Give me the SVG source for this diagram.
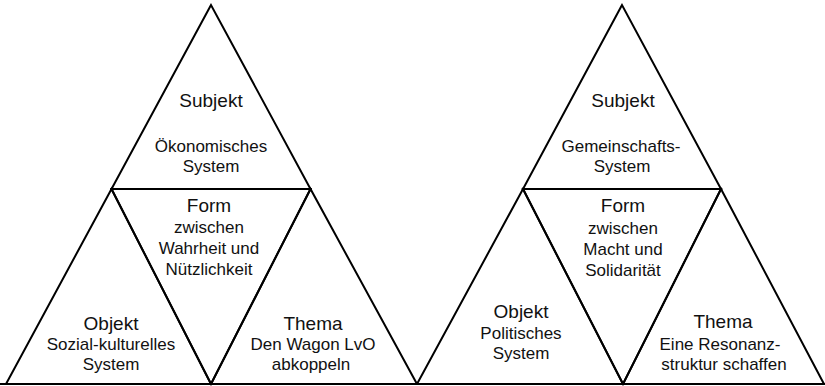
<svg xmlns="http://www.w3.org/2000/svg" width="825" height="386" viewBox="0 0 825 386">
<style>
.ln{fill:none;stroke:#000;stroke-width:2;stroke-linejoin:miter}
text{font-family:"Liberation Sans",Arial,Helvetica,sans-serif;fill:#111;text-anchor:middle}
.t{font-size:19px}
.s{font-size:17px}
</style>
<rect width="825" height="386" fill="#fff"/>
<g id="connectors">
<line class="ln" x1="0" y1="384" x2="825" y2="384"/>
</g>
<g id="left-subjekt">
<polygon class="ln" points="211,5 111.5,189 310.5,189"/>
<text class="t" x="211" y="107">Subjekt</text>
<text class="s" x="211" y="152">Ökonomisches</text>
<text class="s" x="211" y="172">System</text>
</g>
<g id="left-objekt">
<polygon class="ln" points="111.5,189 6,384 211,384"/>
<text class="t" x="111" y="330">Objekt</text>
<text class="s" x="111" y="350">Sozial-kulturelles</text>
<text class="s" x="111" y="370">System</text>
</g>
<g id="left-form">
<polygon class="ln" points="111.5,189 310.5,189 211,384"/>
<text class="t" x="209" y="212">Form</text>
<text class="s" x="209" y="233">zwischen</text>
<text class="s" x="209" y="254">Wahrheit und</text>
<text class="s" x="209" y="275">Nützlichkeit</text>
</g>
<g id="left-thema">
<polygon class="ln" points="310.5,189 211,384 417,384"/>
<text class="t" x="313" y="330">Thema</text>
<text class="s" x="313" y="350">Den Wagon LvO</text>
<text class="s" x="311" y="370">abkoppeln</text>
</g>
<g id="right-subjekt">
<polygon class="ln" points="622,5 523,189 721,189"/>
<text class="t" x="623" y="107">Subjekt</text>
<text class="s" x="621" y="152">Gemeinschafts-</text>
<text class="s" x="622" y="172">System</text>
</g>
<g id="right-objekt">
<polygon class="ln" points="523,189 417,384 623,384"/>
<text class="t" x="521" y="318">Objekt</text>
<text class="s" x="521" y="339">Politisches</text>
<text class="s" x="521" y="359">System</text>
</g>
<g id="right-form">
<polygon class="ln" points="523,189 721,189 623,384"/>
<text class="t" x="623" y="212">Form</text>
<text class="s" x="623" y="234">zwischen</text>
<text class="s" x="623" y="255">Macht und</text>
<text class="s" x="623" y="276">Solidarität</text>
</g>
<g id="right-thema">
<polygon class="ln" points="721,189 623,384 824,384"/>
<text class="t" x="723" y="328">Thema</text>
<text class="s" x="720" y="350">Eine Resonanz-</text>
<text class="s" x="724" y="370">struktur schaffen</text>
</g>
</svg>
